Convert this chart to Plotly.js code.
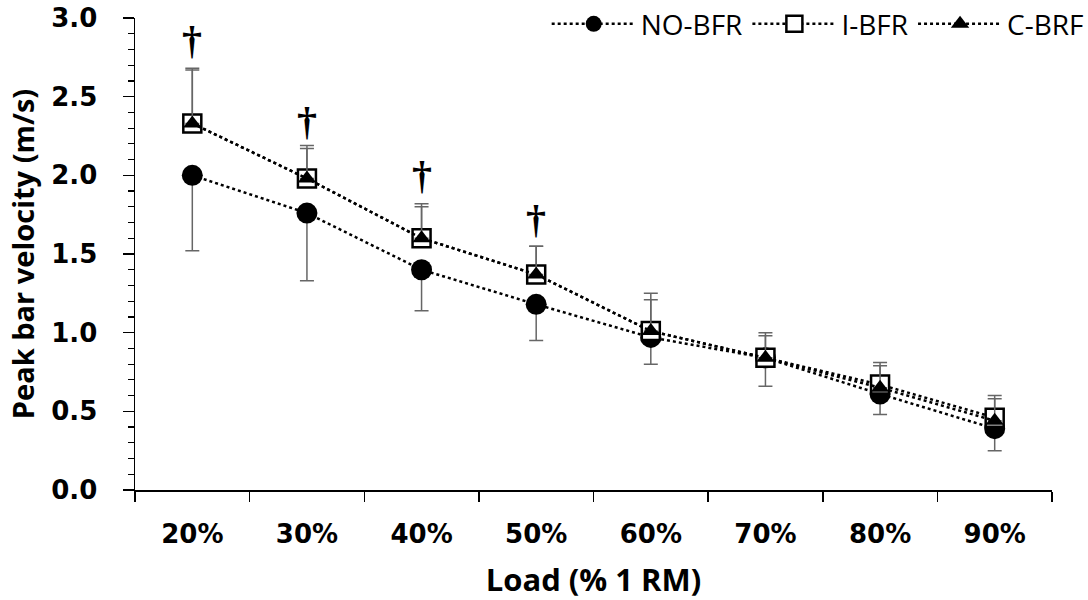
<!DOCTYPE html>
<html>
<head>
<meta charset="utf-8">
<script src="https://cdn.plot.ly/plotly-3.0.1.min.js"></script>
<style>
  body { margin: 0; background: #fff; }
  #chart { width: 1088px; height: 600px; }
</style>
</head>
<body>
<div id="chart"></div>
<script>
var loads = ['20%', '30%', '40%', '50%', '60%', '70%', '80%', '90%'];

var noBfr = [2.00, 1.76, 1.40, 1.18, 0.97, 0.84, 0.61, 0.39];
var noBfrSd = [0.48, 0.43, 0.26, 0.23, 0.17, 0.18, 0.13, 0.14];

var iBfr = [2.33, 1.98, 1.60, 1.37, 1.01, 0.84, 0.67, 0.46];
var iBfrSd = [0.35, 0.21, 0.22, 0.18, 0.24, 0.16, 0.14, 0.14];

var cBrf = [2.33, 1.98, 1.60, 1.37, 1.01, 0.84, 0.65, 0.44];
var cBrfSd = [0.34, 0.19, 0.20, 0.18, 0.20, 0.14, 0.14, 0.14];

// dagger marks (significant difference) above the first four loads
var daggerLoads = ['20%', '30%', '40%', '50%'];
var daggerY = [2.86, 2.34, 2.00, 1.72];

var zeros = loads.map(function () { return 0; });

var errStyle = { color: '#666', thickness: 1.5, width: 7 };

var data = [
    {
        type: 'scatter',
        mode: 'lines+markers',
        name: 'NO-BFR',
        x: loads,
        y: noBfr,
        line: { color: '#000', width: 2.5, dash: 'dot' },
        marker: { symbol: 'circle', size: 21, color: '#000' },
        error_y: Object.assign({ type: 'data', symmetric: false, array: zeros, arrayminus: noBfrSd }, errStyle)
    },
    {
        type: 'scatter',
        mode: 'lines+markers',
        name: 'I-BFR',
        x: loads,
        y: iBfr,
        line: { color: '#000', width: 2.5, dash: 'dot' },
        marker: { symbol: 'square', size: 18, color: '#fff', line: { color: '#000', width: 2.5 } },
        error_y: Object.assign({ type: 'data', symmetric: false, array: iBfrSd, arrayminus: zeros }, errStyle)
    },
    {
        type: 'scatter',
        mode: 'lines+markers',
        name: 'C-BRF',
        x: loads,
        y: cBrf,
        line: { color: '#000', width: 2.5, dash: 'dot' },
        marker: { symbol: 'triangle-up', size: 16, color: '#000' },
        error_y: Object.assign({ type: 'data', symmetric: false, array: cBrfSd, arrayminus: zeros }, errStyle)
    }
];

var annotations = daggerLoads.map(function (l, i) {
    return {
        x: l, y: daggerY[i], xref: 'x', yref: 'y',
        text: '†', showarrow: false,
        font: { family: 'Liberation Serif', size: 40, color: '#000', weight: 'bold' }
    };
});

var tickFont = { family: 'DejaVu Sans', size: 26, color: '#000', weight: 'bold' };

var layout = {
    width: 1088,
    height: 600,
    margin: { l: 135, r: 36, t: 18, b: 110, autoexpand: false },
    paper_bgcolor: '#fff',
    plot_bgcolor: '#fff',
    showlegend: true,
    legend: {
        orientation: 'h',
        x: 1.04, xanchor: 'right',
        y: 1.04, yanchor: 'top',
        itemwidth: 84,
        font: { family: 'Open Sans', size: 28, color: '#000' },
        bgcolor: 'rgba(0,0,0,0)'
    },
    xaxis: {
        type: 'category',
        range: [-0.5, 7.5],
        tickson: 'boundaries',
        ticks: 'outside',
        ticklen: 10,
        tickwidth: 1.5,
        tickcolor: '#000',
        showline: true,
        linecolor: '#000',
        linewidth: 1.5,
        showgrid: false,
        zeroline: false,
        tickfont: tickFont,
        ticklabelstandoff: 20,
        title: { text: 'Load (% 1 RM)', font: { family: 'Open Sans', size: 31, color: '#000', weight: 'bold' }, standoff: 22 }
    },
    yaxis: {
        range: [0, 3],
        dtick: 0.5,
        tickformat: '.1f',
        ticks: 'outside',
        ticklen: 11,
        tickwidth: 1.5,
        tickcolor: '#000',
        minor: { dtick: 0.1, ticks: 'outside', ticklen: 6, tickwidth: 1.2, tickcolor: '#000', showgrid: false },
        showline: true,
        linecolor: '#000',
        linewidth: 1.5,
        showgrid: false,
        zeroline: false,
        tickfont: tickFont,
        ticklabelstandoff: 20,
        title: { text: 'Peak bar velocity (m/s)', font: { family: 'Open Sans', size: 29, color: '#000', weight: 'bold' }, standoff: 8 }
    },
    annotations: annotations
};

Plotly.newPlot('chart', data, layout, { displayModeBar: false, staticPlot: true });
</script>
</body>
</html>
